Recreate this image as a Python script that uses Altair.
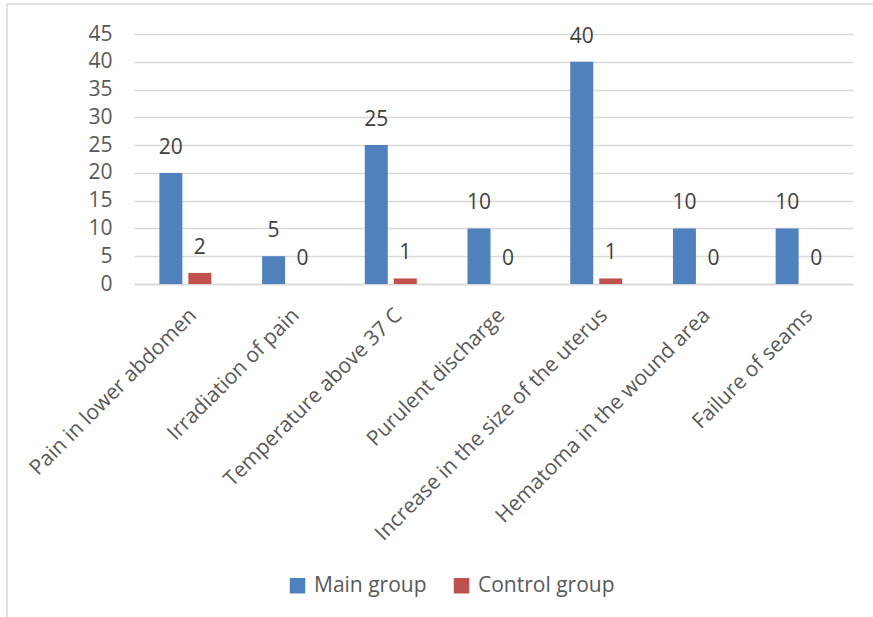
import altair as alt
import pandas as pd

categories = [
    "Pain in lower abdomen",
    "Irradiation of pain",
    "Temperature above 37 C",
    "Purulent discharge",
    "Increase in the size of the uterus",
    "Hematoma in the wound area",
    "Failure of seams",
]
main_group = [20, 5, 25, 10, 40, 10, 10]
control_group = [2, 0, 1, 0, 1, 0, 0]
series_names = ["Main group", "Control group"]
series_colors = ["#4F81BD", "#C0504D"]
y_ticks = [0, 5, 10, 15, 20, 25, 30, 35, 40, 45]

rows = []
for c, m, k in zip(categories, main_group, control_group):
    rows.append({"category": c, "group": series_names[0], "value": m})
    rows.append({"category": c, "group": series_names[1], "value": k})
df = pd.DataFrame(rows)

FONT = "Open Sans"
FS = 21
W, H = 719, 250
LEFT, TOP = 134, 34

x_axis = alt.Axis(labelAngle=-45, labelAlign="right", labelBaseline="middle",
                  labelFontSize=FS, labelFont=FONT, labelColor="#595959",
                  ticks=False, domainColor="#D9D9D9", domainWidth=1.5,
                  labelPadding=28, labelOffset=8, labelLimit=500, grid=False,
                  labelOverlap=False)
y_axis = alt.Axis(values=y_ticks, labelFontSize=FS, labelFont=FONT,
                  labelColor="#595959", ticks=False, domain=False,
                  gridColor="#D9D9D9", gridWidth=1.5, labelPadding=22,
                  labelOverlap=False)

x_enc = alt.X("category:N", sort=categories, title=None,
              scale=alt.Scale(paddingInner=0.494, paddingOuter=0.247),
              axis=x_axis)
xoff = alt.XOffset("group:N", sort=series_names,
                   scale=alt.Scale(paddingInner=0.207, paddingOuter=0))
y_enc = alt.Y("value:Q", title=None,
              scale=alt.Scale(domain=[0, 45], nice=False),
              axis=y_axis)

base = alt.Chart(df)

bars = base.mark_bar().encode(
    x=x_enc, xOffset=xoff, y=y_enc,
    color=alt.Color("group:N", sort=series_names,
                    scale=alt.Scale(domain=series_names, range=series_colors),
                    legend=alt.Legend(title=None, orient="none", direction="horizontal",
                                      legendX=153, legendY=541,
                                      symbolType="square", symbolSize=240,
                                      symbolStrokeWidth=0,
                                      labelFontSize=FS, labelFont=FONT,
                                      labelColor="#595959", labelOffset=6,
                                      columnPadding=24)),
)

labels = base.mark_text(dy=-25, fontSize=FS, font=FONT, color="#404040").encode(
    x=x_enc, xOffset=xoff, y=y_enc, text=alt.Text("value:Q"),
)

frame_df = pd.DataFrame({"k": [0]})
left_border = alt.Chart(frame_df).mark_rule(color="#D9D9D9", strokeWidth=1.5).encode(
    x=alt.value(7 - LEFT), y=alt.value(4 - TOP), y2=alt.value(617 - TOP))
top_border = alt.Chart(frame_df).mark_rule(color="#D9D9D9", strokeWidth=1.5).encode(
    x=alt.value(7 - LEFT), x2=alt.value(873 - LEFT + 5), y=alt.value(4 - TOP))

chart = alt.layer(bars, labels, left_border, top_border).properties(
    width=W, height=H,
    background="white",
    autosize=alt.AutoSizeParams(type="none"),
    padding={"left": LEFT, "top": TOP, "right": 873 - LEFT - W, "bottom": 617 - TOP - H},
).configure_view(stroke=None)

chart.save("out.html", embed_options={"renderer": "svg", "actions": False})
